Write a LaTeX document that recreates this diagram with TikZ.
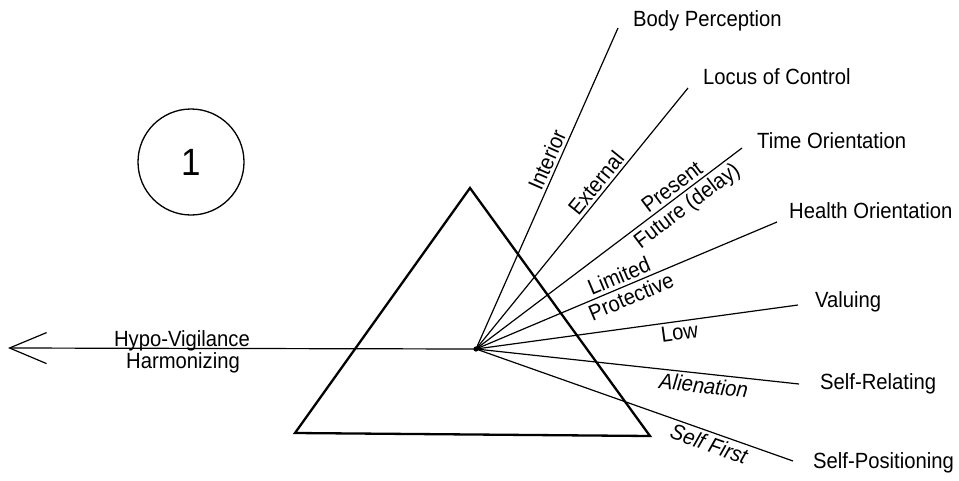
\documentclass[tikz,border=0pt]{standalone}
\usepackage{fontspec}
\setmainfont{Liberation Sans}[FakeStretch=0.92]
\usetikzlibrary{arrows.meta}
\begin{document}
\begin{tikzpicture}[x=1pt,y=-1pt,
  lbl/.style={font=\fontsize{22}{26}\selectfont, inner sep=0pt},
  endlbl/.style={lbl, anchor=base west},
  ray/.style={line width=1.2pt},
  prism/.style={line width=2.3pt, line join=miter},
  onabove/.style={lbl, sloped, above=3pt},
  onbelow/.style={lbl, sloped, below=3pt}]
\useasboundingbox (0,0) rectangle (959,480);

% circle with number
\node[circle, draw, line width=1.3pt, minimum size=106pt, inner sep=0pt,
      font=\fontsize{38}{40}\selectfont] (c1) at (191,162) {1};

% prism
\coordinate (A) at (470,188);
\coordinate (B) at (295,433);
\coordinate (C) at (650,436);
\draw[prism] (A) -- (B) -- (C) -- cycle;

% focus
\coordinate (F) at (476,349);
\fill (F) circle (2.6pt);

% ray end points
\coordinate (e1) at (618,28);
\coordinate (e2) at (688,88);
\coordinate (e3) at (742,148);
\coordinate (e4) at (777,222);
\coordinate (e5) at (798,305);
\coordinate (e6) at (799,384);
\coordinate (e7) at (793,461);
\coordinate (tip) at (8,348);

% arrow to the left
\draw[ray, -{Straight Barb[length=37pt,width=31pt,line width=1.2pt]}] (F) -- (tip);
\node[lbl, anchor=base] (hv) at (182,346) {Hypo-Vigilance};
\node[lbl, anchor=base] (hz) at (183,368) {Harmonizing};

% rays
\draw[ray] (F) -- (e1) node[onabove, pos=0.575] (l1) {Interior};
\draw[ray] (F) -- (e2) node[onabove, pos=0.608] (l2) {External};
\draw[ray] (F) -- (e3) node[onabove, pos=0.762] (l3a) {Present}
                      node[onbelow, pos=0.764] (l3b) {Future (delay)};
\draw[ray] (F) -- (e4) node[onabove, pos=0.49] (l4a) {Limited}
                      node[onbelow, pos=0.50] (l4b) {Protective};
\draw[ray] (F) -- (e5) node[onbelow, pos=0.627] (l5) {Low};
\draw[ray] (F) -- (e6) node[onbelow, pos=0.709, font=\fontsize{22}{26}\selectfont\itshape] (l6) {Alienation};
\draw[ray] (F) -- (e7) node[onbelow, pos=0.748, font=\fontsize{22}{26}\selectfont\itshape] (l7) {Self First};

% end labels
\node[endlbl] (t1) at (633,26) {Body Perception};
\node[endlbl] (t2) at (703,84) {Locus of Control};
\node[endlbl] (t3) at (757,148) {Time Orientation};
\node[endlbl] (t4) at (789,218) {Health Orientation};
\node[endlbl] (t5) at (815,307) {Valuing};
\node[endlbl] (t6) at (820,389) {Self-Relating};
\node[endlbl] (t7) at (813,468) {Self-Positioning};
\end{tikzpicture}
\end{document}
